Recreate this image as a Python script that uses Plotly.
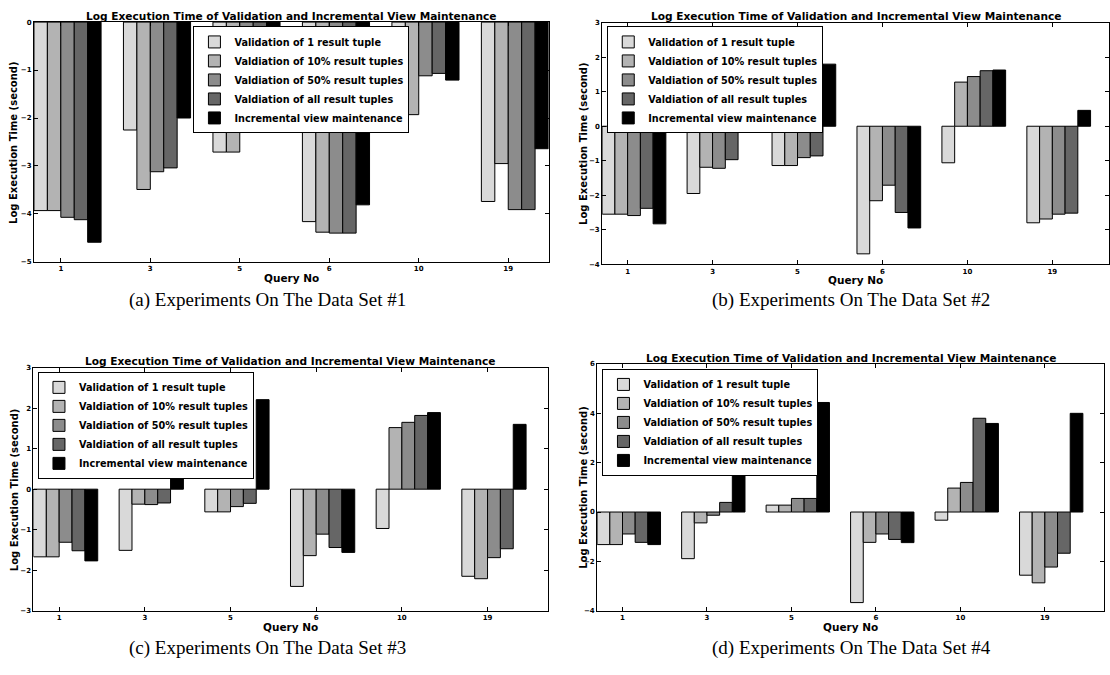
import plotly.graph_objects as go

# ---------------- data ----------------
queries = ["1", "3", "5", "6", "10", "19"]
series_names = [
    "Validation of 1 result tuple",
    "Valdiation of 10% result tuples",
    "Valdiation of 50% result tuples",
    "Valdiation of all result tuples",
    "Incremental view maintenance",
]
series_colors = ["#d9d9d9", "#b3b3b3", "#8c8c8c", "#666666", "#000000"]

# Data Set #1
ds1_one = [-3.93, -2.25, -2.71, -4.16, -1.83, -3.74]
ds1_ten = [-3.93, -3.49, -2.71, -4.38, -1.93, -2.95]
ds1_half = [-4.07, -3.12, -2.15, -4.40, -1.12, -3.91]
ds1_all = [-4.12, -3.04, -2.07, -4.40, -1.07, -3.91]
ds1_ivm = [-4.59, -2.00, -1.77, -3.81, -1.21, -2.64]

# Data Set #2
ds2_one = [-2.55, -1.95, -1.14, -3.70, -1.06, -2.80]
ds2_ten = [-2.55, -1.19, -1.14, -2.16, 1.28, -2.69]
ds2_half = [-2.59, -1.22, -0.91, -1.71, 1.44, -2.55]
ds2_all = [-2.38, -0.97, -0.86, -2.50, 1.61, -2.52]
ds2_ivm = [-2.83, 1.20, 1.80, -2.95, 1.63, 0.46]

# Data Set #3
ds3_one = [-1.67, -1.51, -0.56, -2.40, -0.97, -2.15]
ds3_ten = [-1.67, -0.37, -0.56, -1.64, 1.52, -2.21]
ds3_half = [-1.31, -0.38, -0.43, -1.11, 1.65, -1.69]
ds3_all = [-1.52, -0.34, -0.35, -1.44, 1.82, -1.47]
ds3_ivm = [-1.77, 0.56, 2.21, -1.56, 1.89, 1.60]

# Data Set #4
ds4_one = [-1.32, -1.89, 0.28, -3.67, -0.33, -2.56]
ds4_ten = [-1.32, -0.44, 0.28, -1.23, 0.97, -2.87]
ds4_half = [-0.89, -0.13, 0.55, -0.89, 1.20, -2.23]
ds4_all = [-1.23, 0.39, 0.55, -1.11, 3.80, -1.67]
ds4_ivm = [-1.32, 3.50, 4.44, -1.24, 3.59, 4.00]

datasets = [
    [ds1_one, ds1_ten, ds1_half, ds1_all, ds1_ivm],
    [ds2_one, ds2_ten, ds2_half, ds2_all, ds2_ivm],
    [ds3_one, ds3_ten, ds3_half, ds3_all, ds3_ivm],
    [ds4_one, ds4_ten, ds4_half, ds4_all, ds4_ivm],
]

y_ticks = [
    [0, -1, -2, -3, -4, -5],
    [3, 2, 1, 0, -1, -2, -3, -4],
    [3, 2, 1, 0, -1, -2, -3],
    [6, 4, 2, 0, -2, -4],
]
y_ranges = [[-5, 0], [-4, 3], [-3, 3], [-4, 6]]

chart_title = "Log Execution Time of Validation and Incremental View Maintenance"
y_title = "Log Execution Time (second)"
x_title = "Query No"
captions = [
    "(a) Experiments On The Data Set #1",
    "(b) Experiments On The Data Set #2",
    "(c) Experiments On The Data Set #3",
    "(d) Experiments On The Data Set #4",
]

# ---------------- layout geometry (pixels) ----------------
W, H = 1110, 675


def fx(px):
    return px / W


def fy(py):
    return 1 - py / H


panels = [
    dict(l=34, r=549, t=18.3, b=261, xr=5.45, title_y=12.0, ylab_x=14,
         leg=(193.6, 22.7), cap=(268, 300)),
    dict(l=602.7, r=1110, t=19, b=263.3, xr=5.667, title_y=12.0, ylab_x=584,
         leg=(607.8, 22.7), cap=(852, 300)),
    dict(l=33.5, r=548, t=368, b=614, xr=5.7, title_y=361.5, ylab_x=14,
         leg=(38, 372.3), cap=(268, 652)),
    dict(l=597.7, r=1105, t=364.3, b=614, xr=5.7, title_y=358.0, ylab_x=584,
         leg=(603, 369.3), cap=(852, 652)),
]

BAR_W = 0.15
FONT = "DejaVu Sans"

fig = go.Figure()
annotations = []

for k, (series, p) in enumerate(zip(datasets, panels)):
    idx = "" if k == 0 else str(k + 1)
    xa = "x" + idx
    ya = "y" + idx
    legend_name = "legend" + idx
    for j, (name, vals, col) in enumerate(zip(series_names, series, series_colors)):
        fig.add_trace(go.Bar(
            x=list(range(len(queries))),
            y=vals,
            name=name,
            width=BAR_W,
            offset=-2 * BAR_W + j * BAR_W,
            marker=dict(color=col, line=dict(color="#000000", width=1)),
            xaxis=xa,
            yaxis=ya,
            legend=legend_name,
            showlegend=True,
        ))

    axis_common = dict(
        showline=True, linecolor="#000000", linewidth=1, mirror="ticks",
        ticks="inside", ticklen=4, tickwidth=1, tickcolor="#000000",
        showgrid=False, zeroline=False,
        tickfont=dict(family=FONT, size=7, color="#000000", weight="bold"),
        fixedrange=True,
    )
    fig.update_layout(**{
        "xaxis" + idx: dict(
            domain=[fx(p["l"]), fx(p["r"])],
            range=[-0.3, p["xr"]],
            tickmode="array",
            tickvals=list(range(len(queries))),
            ticktext=queries,
            anchor=ya,
            **axis_common,
        ),
        "yaxis" + idx: dict(
            domain=[fy(p["b"]), fy(p["t"])],
            range=y_ranges[k],
            tickmode="array",
            tickvals=y_ticks[k],
            anchor=xa,
            **axis_common,
        ),
        legend_name: dict(
            x=fx(p["leg"][0]), y=fy(p["leg"][1]),
            xanchor="left", yanchor="top",
            bgcolor="#ffffff", bordercolor="#000000", borderwidth=1,
            font=dict(family=FONT, size=9.7, color="#000000", weight="bold"),
            tracegroupgap=0,
            itemwidth=30,
        ),
    })

    cx = (p["l"] + p["r"]) / 2
    annotations.append(dict(
        text=chart_title, x=fx(cx), y=fy(p["title_y"]), xref="paper", yref="paper",
        xanchor="center", yanchor="middle", showarrow=False,
        font=dict(family=FONT, size=10.6, color="#000000", weight="bold"),
    ))
    annotations.append(dict(
        text=x_title, x=fx(cx), y=fy(p["b"] + 16), xref="paper", yref="paper",
        xanchor="center", yanchor="middle", showarrow=False,
        font=dict(family=FONT, size=10.5, color="#000000", weight="bold"),
    ))
    annotations.append(dict(
        text=y_title, x=fx(p["ylab_x"]), y=fy((p["t"] + p["b"]) / 2),
        xref="paper", yref="paper", textangle=-90,
        xanchor="center", yanchor="middle", showarrow=False,
        font=dict(family=FONT, size=10, color="#000000", weight="bold"),
    ))
    annotations.append(dict(
        text=captions[k], x=fx(p["cap"][0]), y=fy(p["cap"][1]),
        xref="paper", yref="paper",
        xanchor="center", yanchor="middle", showarrow=False,
        font=dict(family="Liberation Serif", size=19, color="#000000"),
    ))

fig.update_layout(
    width=W, height=H,
    margin=dict(l=0, r=0, t=0, b=0),
    paper_bgcolor="#ffffff",
    plot_bgcolor="#ffffff",
    barmode="overlay",
    annotations=annotations,
)

fig.write_html(
    "out.html",
    config={"displayModeBar": False},
    post_script="document.body.style.margin='0';document.body.style.padding='0';"
                "document.body.style.overflow='hidden';",
)
